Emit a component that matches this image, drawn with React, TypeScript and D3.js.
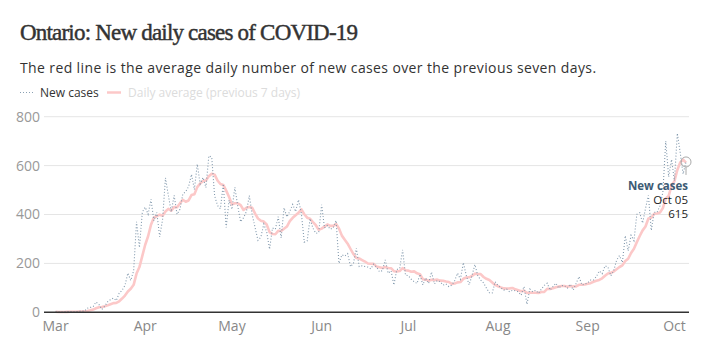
import React from "react";
import * as d3 from "d3";

// daily values from Mar 1 2020 to Oct 5 2020
const startDate = new Date(2020, 2, 1);

const newCases = [
  // Mar
  2, 1, 1, 2, 3, 3, 2, 3, 4, 5, 5, 17, 20, 24, 42, 32, 12, 25, 43, 52, 58, 48, 78, 90, 110, 160, 130, 170, 370, 265, 410,
  // Apr
  430, 401, 462, 375, 408, 309, 379, 550, 478, 411, 478, 401, 421, 483, 494, 514, 564, 502, 606, 525, 551, 510, 640, 634, 476, 437, 424, 525, 347, 459,
  // May
  421, 511, 434, 370, 387, 412, 477, 399, 346, 294, 308, 361, 329, 258, 345, 340, 391, 304, 427, 390, 413, 441, 412, 460, 404, 287, 292, 383, 344, 323, 326,
  // Jun
  440, 345, 355, 340, 345, 375, 200, 235, 230, 240, 187, 200, 262, 187, 190, 187, 185, 178, 197, 185, 166, 170, 214, 160, 170, 112, 175, 180, 255, 152,
  // Jul
  150, 135, 125, 118, 155, 112, 140, 118, 165, 116, 130, 125, 111, 116, 105, 111, 129, 160, 135, 203, 152, 112, 150, 195, 150, 132, 120, 99, 80, 79, 125,
  // Aug
  110, 100, 91, 95, 84, 90, 88, 84, 70, 105, 33, 95, 84, 90, 78, 95, 110, 119, 91, 105, 119, 99, 110, 108, 99, 115, 91, 118, 146, 112, 115,
  // Sep
  120, 132, 132, 146, 169, 158, 190, 185, 149, 170, 213, 232, 204, 313, 251, 315, 293, 401, 407, 365, 425, 478, 335, 409, 409, 435, 491, 700, 554, 625,
  // Oct
  538, 732, 653, 566, 615,
];

const dailyAverage = [
  // Mar
  2, 1.5, 1.3, 1.5, 1.8, 2, 2, 2.1, 2.6, 3.1, 3.6, 5.6, 8, 11.1, 16.7, 20.7, 21.7, 24.6, 28.3, 32.9, 37.7, 38.6, 45.1, 56.3, 68.4, 85.1, 96.3, 112.3, 158.3, 185, 230.7,
  // Apr
  276.4, 310.9, 358.3, 387.6, 393, 399.3, 394.9, 412, 423, 415.7, 430.4, 429.4, 445.4, 460.3, 452.3, 457.4, 479.3, 482.7, 512, 526.9, 536.6, 538.9, 556.9, 566.9, 563.1, 539, 524.6, 520.9, 497.6, 471.7,
  // May
  441.3, 446.3, 445.9, 438.1, 418.4, 427.7, 430.3, 427.1, 403.6, 383.6, 374.7, 371, 359.1, 327.9, 320.1, 319.3, 333.1, 332.6, 342, 350.7, 372.9, 386.6, 396.9, 406.7, 421, 401, 387, 382.7, 368.9, 356.1, 337,
  // Jun
  342.1, 350.4, 359.4, 353.3, 353.4, 360.9, 342.9, 313.6, 297.1, 280.7, 258.9, 238.1, 222, 220.1, 213.7, 207.6, 199.7, 198.4, 198, 187, 184, 181.1, 185, 181.4, 180.3, 168.1, 166.7, 168.7, 180.9, 172,
  // Jul
  170.6, 165.6, 167.4, 159.3, 155.7, 135.3, 133.6, 129, 133.3, 132, 133.7, 129.4, 129.3, 125.9, 124, 116.3, 118.1, 122.4, 123.9, 137, 142.1, 143.1, 148.7, 158.1, 156.7, 156.3, 144.4, 136.9, 132.3, 122.1, 112.1,
  // Aug
  106.4, 101.9, 97.7, 97.1, 97.7, 99.3, 94, 90.3, 86, 88, 79.1, 80.7, 79.9, 80.1, 79.3, 82.9, 83.6, 95.9, 95.3, 98.3, 102.4, 105.4, 107.6, 107.3, 104.4, 107.9, 105.9, 105.7, 112.4, 112.7, 113.7,
  // Sep
  116.7, 119.1, 125, 129, 132.3, 138.9, 149.6, 158.9, 161.3, 166.7, 176.3, 185.3, 191.9, 209.4, 218.9, 242.6, 260.1, 287, 312, 335, 351, 383.4, 386.3, 402.9, 404, 408, 426, 465.3, 476.1, 517.6,
  // Oct
  536, 582.1, 613.3, 624, 611.9,
];

const yTicks = [0, 200, 400, 600, 800];
const monthLabels = ["Mar", "Apr", "May", "Jun", "Jul", "Aug", "Sep", "Oct"];

const W = 704;
const H = 352;

const sans = "'Open Sans', 'Noto Sans', sans-serif";

export default function App() {
  const dates = newCases.map((_, i) => d3.timeDay.offset(startDate, i));
  const lastDate = dates[dates.length - 1];

  const x = d3.scaleTime().domain([new Date(2020, 1, 26), lastDate]).range([44, 686]);
  const y = d3.scaleLinear().domain([0, 800]).range([312.3, 116.7]);

  const monthTicks = monthLabels.map((_, i) => new Date(2020, 2 + i, 1));

  const line = d3
    .line<number>()
    .x((_, i) => x(dates[i]))
    .y((d) => y(d));

  const lastVal = newCases[newCases.length - 1];
  const cx = x(lastDate);
  const cy = y(lastVal);

  return (
    <svg width={W} height={H} style={{ position: "absolute", left: 0, top: 0, background: "#fff" }}>
      <text x={20} y={39.5} fontFamily="'Liberation Serif', serif" fontSize={23} fill="#333" stroke="#333" strokeWidth={0.45} letterSpacing={-0.8}>
        Ontario: New daily cases of COVID-19
      </text>
      <text x={20} y={72.5} fontFamily={sans} fontSize={14} fill="#333" letterSpacing={0.38}>
        The red line is the average daily number of new cases over the previous seven days.
      </text>

      {/* legend */}
      <line x1={20} x2={33} y1={92.5} y2={92.5} stroke="#8aa0b3" strokeWidth={1.2} strokeDasharray="1,2" />
      <text x={40} y={97} fontFamily={sans} fontSize={12} fill="#333">New cases</text>
      <line x1={107} x2={121} y1={92.5} y2={92.5} stroke="#fcc8c8" strokeWidth={2.5} />
      <text x={128} y={97} fontFamily={sans} fontSize={12} fill="#dcdcdc">Daily average (previous 7 days)</text>

      {/* grid + y labels */}
      {yTicks.map((t) => (
        <g key={t}>
          {t > 0 && <line x1={44} x2={689} y1={y(t)} y2={y(t)} stroke="#e5e5e5" strokeWidth={1} />}
          <text x={40} y={y(t)} dy="0.35em" textAnchor="end" fontFamily={sans} fontSize={14} fill="#999">
            {t}
          </text>
        </g>
      ))}

      {/* x labels */}
      {monthTicks.map((d, i) => (
        <text key={i} x={x(d)} y={331} textAnchor="middle" fontFamily={sans} fontSize={14} fill="#888">
          {monthLabels[i]}
        </text>
      ))}

      <path d={line(dailyAverage) || ""} fill="none" stroke="#fcc8c8" strokeWidth={2.6} strokeLinejoin="round" />
      <path d={line(newCases) || ""} fill="none" stroke="#8299ad" strokeWidth={1.1} strokeDasharray="1,2" />

      <line x1={44} x2={689} y1={y(0)} y2={y(0)} stroke="#333" strokeWidth={1.6} />

      {/* annotation */}
      <circle cx={cx} cy={cy} r={5} fill="none" stroke="#aaa" strokeWidth={1} />
      <line x1={cx} x2={cx} y1={cy + 5} y2={cy + 13} stroke="#aaa" strokeWidth={1} />
      <text x={688} y={190} textAnchor="end" fontFamily={sans} fontSize={11.5} fontWeight={700} fill="#3d5b74">
        New cases
      </text>
      <text x={688} y={204} textAnchor="end" fontFamily={sans} fontSize={11.5} fill="#222">
        Oct 05
      </text>
      <text x={688} y={217.5} textAnchor="end" fontFamily={sans} fontSize={11.5} fill="#222">
        {lastVal}
      </text>
    </svg>
  );
}
